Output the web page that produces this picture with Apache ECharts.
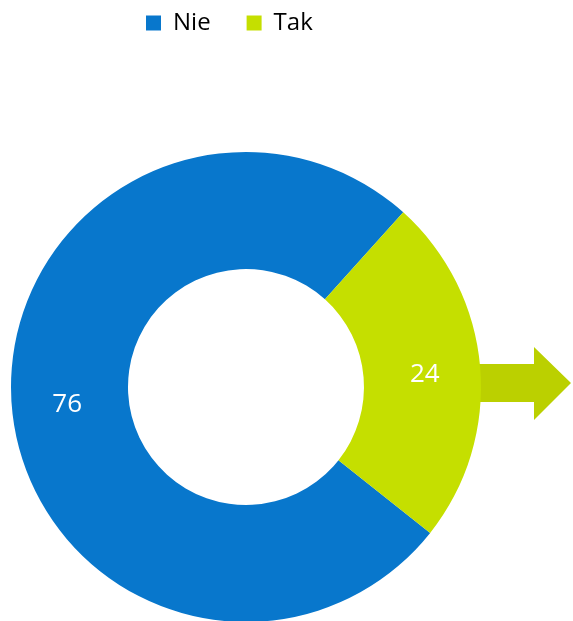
<!DOCTYPE html>
<html>
<head>
<meta charset="utf-8">
<script src="https://cdn.jsdelivr.net/npm/echarts@6/dist/echarts.min.js"></script>
<style>
  html, body { margin: 0; padding: 0; background: #fff; }
  #chart { width: 573px; height: 621px; }
</style>
</head>
<body>
<div id="chart"></div>
<script>
// values
var categories = ['Nie', 'Tak'];
var values = [76, 24];
var colors = ['#0877cc', '#c5df00'];

var chart = echarts.init(document.getElementById('chart'));

chart.setOption({
  color: colors,
  legend: {
    data: categories,
    top: 6,
    left: 141,
    itemWidth: 15,
    itemHeight: 15,
    itemGap: 36,
    icon: 'rect',
    textStyle: {
      fontFamily: 'Open Sans',
      fontSize: 24,
      color: '#000',
      padding: [0, 0, 0, 7]
    }
  },
  graphic: [{
    type: 'polygon',
    z: -1,
    shape: {
      // decorative arrow on the right
      points: [[470, 364], [534, 364], [534, 347], [571, 383], [534, 420], [534, 402], [470, 402]]
    },
    style: { fill: '#bbd000' }
  }],
  series: [{
    type: 'pie',
    center: [246, 387],
    radius: [118, 235],
    startAngle: -38.4,
    clockwise: true,
    avoidLabelOverlap: false,
    label: {
      show: true,
      position: 'inside',
      formatter: '{c}',
      color: '#fff',
      fontFamily: 'Open Sans',
      fontSize: 26,
      offset: [0, 3]
    },
    labelLine: { show: false },
    emphasis: { disabled: true },
    animation: false,
    data: categories.map(function (c, i) {
      return { name: c, value: values[i] };
    })
  }]
});
</script>
</body>
</html>
